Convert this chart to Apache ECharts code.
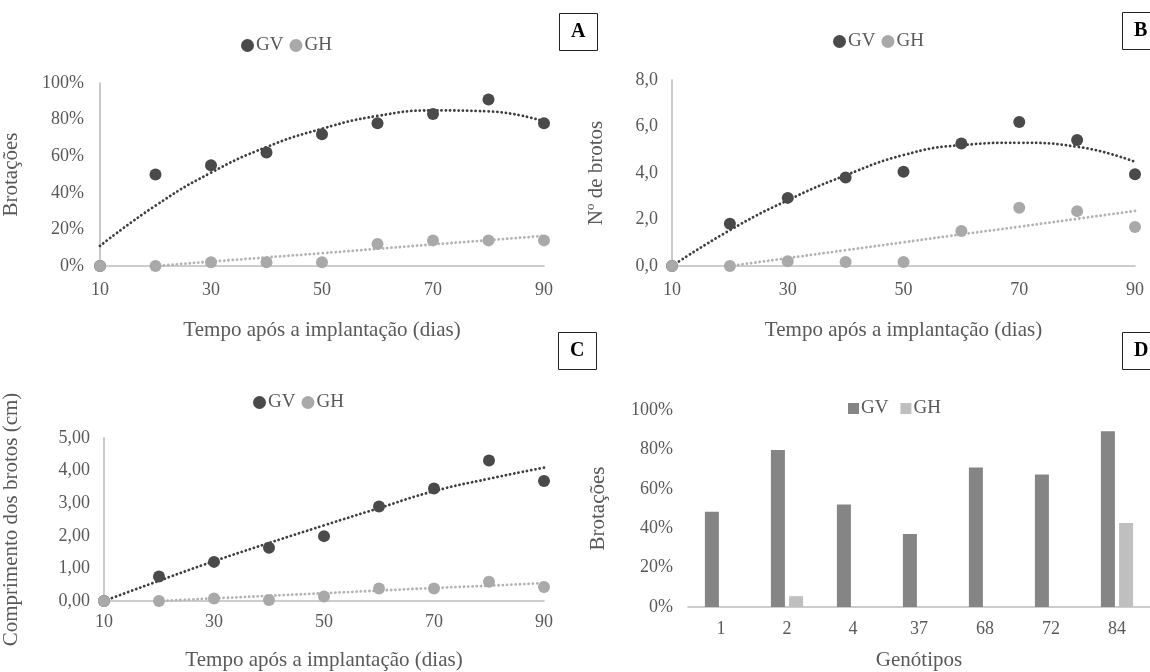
<!DOCTYPE html>
<html>
<head>
<meta charset="utf-8">
<script src="https://cdn.jsdelivr.net/npm/echarts@6/dist/echarts.min.js"></script>
<style>
html,body{margin:0;padding:0;background:#fff;}
#c{width:1150px;height:672px;}
</style>
</head>
<body>
<div id="c"></div>
<script>
// ---------- DATA ----------
const xDays = [10, 20, 30, 40, 50, 60, 70, 80, 90];
const xTickLabels = [10, 30, 50, 70, 90];

// Panel A: Brotações (%)
const brotGV = [0, 50, 55, 62, 72, 78, 83, 91, 78];
const brotGH = [0, 0, 2, 2, 2, 12, 14, 14, 14];
const brotTrendGV = [11, 33, 51, 65, 75, 82, 85, 84.5, 79];
const brotTrendGH = [null, 0, 2.4, 4.7, 7, 9.4, 11.8, 14.1, 16.5];

// Panel B: Nº de brotos
const nGV = [0, 1.82, 2.93, 3.81, 4.05, 5.27, 6.19, 5.42, 3.95];
const nGH = [0, 0, 0.2, 0.17, 0.17, 1.51, 2.51, 2.36, 1.68];
const nTrendGV = [0, 1.54, 2.83, 3.9, 4.77, 5.2, 5.3, 5.13, 4.48];
const nTrendGH = [null, 0, 0.34, 0.68, 1.02, 1.36, 1.69, 2.03, 2.37];

// Panel C: Comprimento dos brotos (cm)
const compGV = [0, 0.75, 1.2, 1.63, 1.99, 2.9, 3.45, 4.31, 3.68];
const compGH = [0, 0, 0.08, 0.03, 0.14, 0.38, 0.38, 0.59, 0.43];
const compTrendGV = [0, 0.62, 1.22, 1.78, 2.32, 2.85, 3.37, 3.75, 4.09];
const compTrendGH = [null, 0, 0.08, 0.16, 0.24, 0.32, 0.4, 0.47, 0.55];

// Panel D: Brotações por genótipo (%)
const genotipos = ['1', '2', '4', '37', '68', '72', '84'];
const genGV = [48.3, 79.7, 52, 37, 70.8, 67.2, 89.2];
const genGH = [0, 5.5, 0, 0, 0, 0, 42.7];

// ---------- STYLE ----------
const FONT = 'Liberation Serif';
const TXT = '#595959';
const AXC = '#bdbdbd';
const CGV = '#4a4a4a';
const CGH = '#a9a9a9';
const BGV = '#858585';
const BGH = '#bfbfbf';

const pairs = (xs, ys) => xs.map((x, i) => [x, ys[i]]);

function xAxisDays(gi, gap, margin) {
  return {
    type: 'value', gridIndex: gi, min: 10, max: 90, interval: 10,
    name: 'Tempo após a implantação (dias)', nameLocation: 'middle', nameGap: gap,
    nameTextStyle: { fontFamily: FONT, fontSize: 21, color: TXT },
    axisLine: { show: true, lineStyle: { color: AXC, width: 1.6 } },
    axisTick: { show: false },
    splitLine: { show: false },
    axisLabel: {
      fontFamily: FONT, fontSize: 18, color: TXT, margin: margin,
      formatter: v => xTickLabels.indexOf(v) >= 0 ? String(v) : ''
    }
  };
}
function yAxisVal(gi, name, gap, max, interval, fmt, margin) {
  return {
    type: 'value', gridIndex: gi, min: 0, max: max, interval: interval,
    name: name, nameLocation: 'middle', nameGap: gap,
    nameTextStyle: { fontFamily: FONT, fontSize: 21, color: TXT },
    axisLine: { show: true, lineStyle: { color: AXC, width: 1.6 } },
    axisTick: { show: false },
    splitLine: { show: false },
    axisLabel: { fontFamily: FONT, fontSize: 18, color: TXT, margin: margin, formatter: fmt }
  };
}
function trend(gi, data, color) {
  return {
    type: 'line', name: 'trend', xAxisIndex: gi, yAxisIndex: gi,
    data: pairs(xDays, data), smooth: 0.5, symbol: 'none', connectNulls: false,
    lineStyle: { color: color, width: 2.8, type: [0.1, 4.2], cap: 'round' },
    z: 2, silent: true
  };
}
function dots(gi, name, data, color) {
  return {
    type: 'scatter', name: name, xAxisIndex: gi, yAxisIndex: gi,
    data: pairs(xDays, data), symbolSize: 12,
    itemStyle: { color: color, opacity: 1 }, z: 3
  };
}
function legendDots(left, top) {
  return {
    left: left, top: top, itemWidth: 13, itemHeight: 13, itemGap: 6,
    textStyle: { fontFamily: FONT, fontSize: 19, color: TXT, padding: [0, 0, 0, -3] },
    data: [
      { name: 'GV', icon: 'circle', itemStyle: { color: CGV } },
      { name: 'GH', icon: 'circle', itemStyle: { color: CGH } }
    ],
    selectedMode: false
  };
}
function box(text, left, top) {
  return {
    text: text, left: left, top: top,
    textStyle: { fontFamily: FONT, fontSize: 20, fontWeight: 'bold', color: '#000' },
    borderColor: '#222', borderWidth: 1, padding: [9, 12, 9, 12]
  };
}

const pct = v => v + '%';
const dec1 = v => v.toFixed(1).replace('.', ',');
const dec2 = v => v.toFixed(2).replace('.', ',');

const option = {
  backgroundColor: '#fff',
  animation: false,
  title: [box('A', 559, 13), box('B', 1122, 12), box('C', 558, 332), box('D', 1122, 332)],
  legend: [
    legendDots(236, 31),
    legendDots(828, 27),
    legendDots(248, 388),
    {
      left: 843, top: 394, itemWidth: 11, itemHeight: 11, itemGap: 12,
      textStyle: { fontFamily: FONT, fontSize: 19, color: TXT, padding: [0, 0, 0, -3] },
      data: [
        { name: 'GV', icon: 'rect', itemStyle: { color: BGV } },
        { name: 'GH', icon: 'rect', itemStyle: { color: BGH } }
      ],
      selectedMode: false
    }
  ],
  grid: [
    { left: 98, top: 83, width: 446, height: 183 },
    { left: 672, top: 80, width: 463, height: 186 },
    { left: 101, top: 438, width: 443, height: 175 },
    { left: 688, top: 410, width: 469, height: 200 }
  ],
  xAxis: [
    xAxisDays(0, 54, 15),
    xAxisDays(1, 54, 15),
    xAxisDays(2, 49, 12),
    {
      type: 'category', gridIndex: 3, data: genotipos,
      name: 'Genótipos', nameLocation: 'middle', nameGap: 43,
      nameTextStyle: { fontFamily: FONT, fontSize: 21, color: TXT },
      axisLine: { show: true, lineStyle: { color: AXC, width: 1.6 } },
      axisTick: { show: false },
      axisLabel: { fontFamily: FONT, fontSize: 18, color: TXT, margin: 13 }
    }
  ],
  yAxis: [
    yAxisVal(0, 'Brotações', 78, 100, 20, pct, 16),
    yAxisVal(1, 'Nº de brotos', 65, 8, 2, dec1, 14),
    yAxisVal(2, 'Comprimento dos brotos (cm)', 82, 5, 1, dec2, 14),
    Object.assign(yAxisVal(3, 'Brotações', 79, 100, 20, pct, 15), { axisLine: { show: false } })
  ],
  series: [
    trend(0, brotTrendGV, '#3f3f3f'),
    trend(0, brotTrendGH, '#b3b3b3'),
    dots(0, 'GV', brotGV, CGV),
    dots(0, 'GH', brotGH, CGH),

    trend(1, nTrendGV, '#3f3f3f'),
    trend(1, nTrendGH, '#b3b3b3'),
    dots(1, 'GV', nGV, CGV),
    dots(1, 'GH', nGH, CGH),

    trend(2, compTrendGV, '#3f3f3f'),
    trend(2, compTrendGH, '#b3b3b3'),
    dots(2, 'GV', compGV, CGV),
    dots(2, 'GH', compGH, CGH),

    {
      type: 'bar', name: 'GV', xAxisIndex: 3, yAxisIndex: 3, data: genGV,
      barWidth: 14, barGap: '30%', itemStyle: { color: BGV }
    },
    {
      type: 'bar', name: 'GH', xAxisIndex: 3, yAxisIndex: 3, data: genGH,
      barWidth: 14, barGap: '30%', itemStyle: { color: BGH }
    }
  ]
};

const chart = echarts.init(document.getElementById('c'), null, { renderer: 'canvas' });
chart.setOption(option);
</script>
</body>
</html>
